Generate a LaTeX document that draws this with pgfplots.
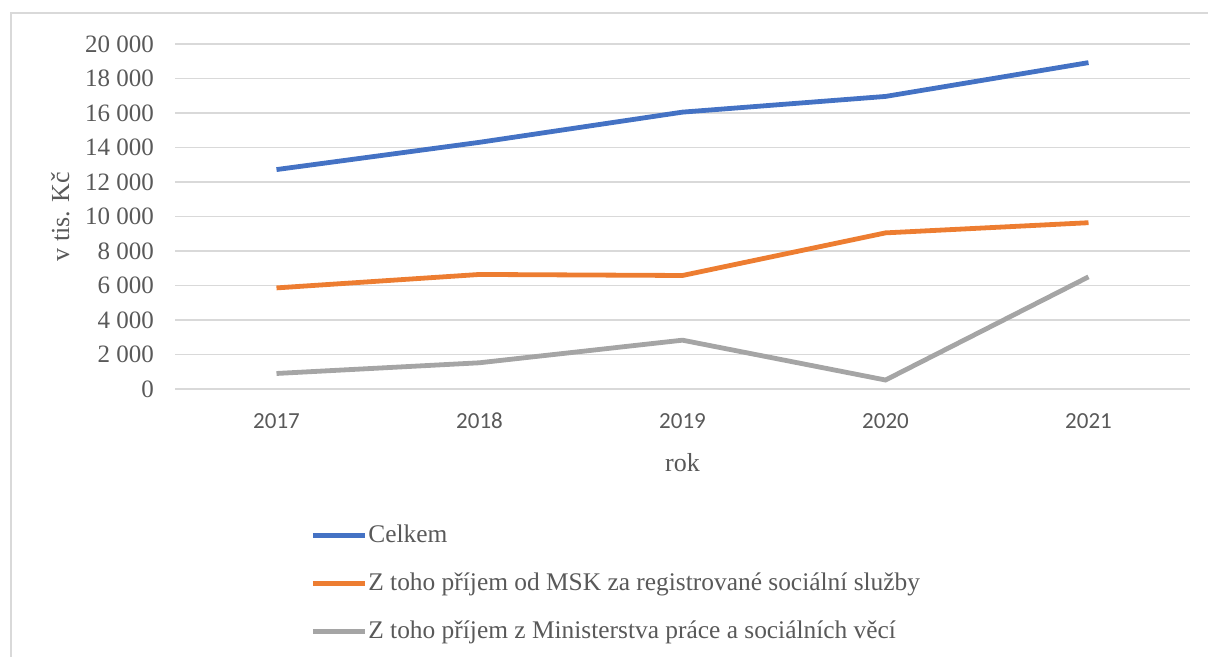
\documentclass[border=0pt]{standalone}
\usepackage{pgfplots}
\pgfplotsset{compat=1.18}
\usepackage{fontspec}
\setmainfont{Liberation Serif}
\newfontfamily\calib{Carlito}
\definecolor{cblue}{HTML}{4472C4}
\definecolor{corange}{HTML}{ED7D31}
\definecolor{cgray}{HTML}{A5A5A5}
\definecolor{cgrid}{HTML}{D9D9D9}
\definecolor{ctext}{HTML}{595959}
\begin{document}
\begin{tikzpicture}[x=1pt,y=1pt]
\useasboundingbox (0,0) rectangle (604,328.5);
\draw[cgrid, line width=1pt] (5.5,0) -- (5.5,322) -- (604,322);
\begin{axis}[
  at={(87.5pt,134pt)}, anchor=south west,
  scale only axis, width=507.5pt, height=172.5pt,
  xmin=-0.5, xmax=4.5, ymin=0, ymax=20000,
  xtick={0,1,2,3,4},
  xticklabels={2017,2018,2019,2020,2021},
  ytick={0,2000,...,20000},
  scaled y ticks=false,
  axis line style={draw=none},
  tick style={draw=none},
  ymajorgrids, grid style={cgrid, line width=0.8pt},
  /pgf/number format/assume math mode=true,
  /pgf/number format/1000 sep={\ },
  /pgf/number format/fixed,
  yticklabel style={text=ctext, font=\fontsize{12.5}{14}\selectfont, xshift=-7pt},
  xticklabel style={text=ctext, font=\calib\fontsize{11.5}{13}\selectfont, text height=8pt, text depth=0pt, yshift=-8pt},
  xlabel={rok},
  xlabel style={text=ctext, font=\fontsize{13}{15}\selectfont, at={(axis description cs:0.5,-0.212)}, anchor=center},
  ylabel={v tis. Kč},
  ylabel style={text=ctext, font=\fontsize{13}{15}\selectfont, at={(axis description cs:-0.113,0.5)}, anchor=center},
  legend style={draw=none, fill=none, at={(0.133,-0.382)}, anchor=north west,
    font=\fontsize{12.7}{15}\selectfont, text=ctext, row sep=9.6pt, inner sep=0pt,
    nodes={inner xsep=0.5pt}},
  legend cell align=left,
  legend image code/.code={\draw[#1, line width=2.5pt] (0pt,0pt) -- (26pt,0pt);},
]
\addplot[cblue, line width=2.4pt] coordinates {(0,12720) (1,14300) (2,16050) (3,16960) (4,18920)};
\addlegendentry{Celkem}
\addplot[corange, line width=2.4pt] coordinates {(0,5860) (1,6640) (2,6580) (3,9050) (4,9640)};
\addlegendentry{Z toho příjem od MSK za registrované sociální služby}
\addplot[cgray, line width=2.4pt] coordinates {(0,900) (1,1520) (2,2830) (3,520) (4,6500)};
\addlegendentry{Z toho příjem z Ministerstva práce a sociálních věcí}
\end{axis}
\end{tikzpicture}
\end{document}
